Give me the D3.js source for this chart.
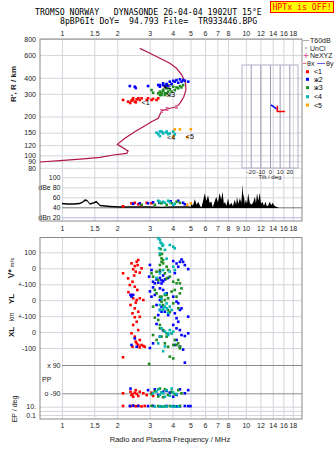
<!DOCTYPE html>
<html>
<head>
<meta charset="utf-8">
<title>Dynasonde</title>
<script src="https://cdn.jsdelivr.net/npm/d3@7"></script>
<style>
  body { margin: 0; background: #fff; }
  #chart { width: 335px; height: 451px; }
</style>
</head>
<body>
<div id="chart"></div>
<script>
// ---------- data ----------
const freqTicks = [1, 1.5, 2, 3, 4, 5, 6, 7, 8, 10, 12, 14, 16, 18];
const freqTicksMid = [1, 1.5, 2, 3, 4, 5, 6, 7, 8, 9, 10, 12, 14, 16, 18];
const heightTicks = [800, 600, 400, 300, 200, 150, 120, 100, 90, 80];
const dbTicks = [100, 80, 60, 40, 20];
const dbTickLabels = ["100", "dBe 80", "60", "40", "dBn 20"];
const tiltTicks = [-20, -10, 0, 10, 20];

// plasma frequency profile (MHz, km)
const profFreq = [0.76, 0.975, 1.31, 1.61, 1.90, 2.25, 2.29, 2.0, 2.2, 2.49, 2.77, 3.07, 3.34, 3.48, 3.73, 4.20, 4.38, 4.60, 4.72, 4.70, 4.49, 4.20, 3.86, 3.41, 3.01, 2.65];
const profHeight = [88.7, 90.8, 94, 96.5, 100.6, 103.6, 108, 121.7, 135.6, 152.6, 166.7, 182, 194, 221, 229, 238, 253, 285, 321, 362, 420, 474, 518, 567, 620, 677];

// NeXYZ fits
const neFreq = [3.48, 3.73, 4.20];
const neHeight = [221, 229, 238];
const neErr = [6, 6, 6];

// tilt traces (deg, km)
const tiltXdeg = [7.6, 7.6, 15.5];
const tiltXkm = [243, 219, 219];
const tiltYdeg = [1, 2.5, 4, 5.5, 7];
const tiltYkm = [246, 242, 238, 233, 228];

// virtual heights of echoes, per cluster (MHz, km)
const echo1 = [[2.15,269],[2.29,261],[2.39,266],[2.44,277],[2.49,261],[2.55,272],[2.60,277],[2.65,269],[2.71,277],[2.89,269],[2.94,277],[3.07,269],[3.13,274],[3.27,269],[3.34,277],[2.35,255],[2.52,258],[2.42,270]];
const echo2 = [[2.34,345],[2.49,341],[2.52,333],[2.94,345],[3.34,351],[3.41,341],[3.55,351],[3.71,358],[3.78,345],[3.41,351],[3.55,362],[3.63,345],[3.71,351],[3.86,373],[3.95,358],[4.03,379],[4.11,373],[4.20,384],[4.29,366],[4.38,389],[4.47,373],[4.56,384],[4.66,379],[4.86,373]];
const echo3 = [[3.07,321],[3.13,306],[3.34,303],[3.41,294],[3.48,306],[3.55,317],[3.63,294],[3.71,303],[3.78,312],[3.41,312],[3.48,294],[3.55,321],[3.63,303],[3.71,331],[3.86,325],[3.95,312],[4.03,341],[4.11,321],[4.20,337],[4.29,331],[4.38,345],[4.47,337],[4.56,351]];
const echo4 = [[3.27,150],[3.34,146],[3.41,141],[3.48,153],[3.55,148],[3.71,150],[3.78,146],[3.41,153],[3.55,150],[3.71,153],[3.86,148],[4.03,153],[4.11,146]];
const echo5 = [[4.03,139.5],[4.11,159],[4.38,159],[5.02,159],[4.80,138]];

const clusterNames = ["<1", "ж2", "ж3", "<4", "<5"];
const clusterFreq = [2.71, 3.55, 3.71, 3.73, 4.72];
const clusterHeight = [258, 348, 297, 139, 140];

// noise envelope (MHz, dB)
const noiseFreq = [1.0, 1.06, 1.15, 1.25, 1.30, 1.33, 1.37, 1.42, 1.48, 1.54, 1.61, 1.82, 2.07, 2.5, 3.0, 3.5, 4.0, 4.5, 4.95,
    5.0, 5.06, 5.15, 5.28, 5.4, 5.51, 5.65, 5.74, 5.85, 5.98, 6.1, 6.23, 6.35, 6.5, 6.6, 6.75, 6.9, 7.05, 7.2, 7.35, 7.47, 7.6, 7.68, 7.85,
    8.0, 8.15, 8.35, 8.5, 8.7, 8.85, 8.95, 9.1, 9.28, 9.45, 9.6, 9.68, 9.74, 9.87, 10.0, 10.15, 10.3, 10.5, 10.7, 10.95, 11.2, 11.35,
    11.5, 11.7, 11.9, 12.1, 12.3, 12.55, 12.8, 13.0, 13.2, 13.5, 13.75, 14.0, 14.3, 14.6, 15.1];
const noiseHi = [49, 48, 48, 49, 52, 56, 55, 48, 50, 53, 45, 43, 42, 42, 42, 41, 42, 42, 42,
    40, 48, 43, 56, 45, 51, 42, 40, 52, 68, 53, 64, 49, 51, 40, 50, 61, 50, 68, 55, 71, 46, 51, 43,
    58, 44, 49, 42, 55, 45, 61, 47, 58, 49, 86, 58, 68, 46, 55, 47, 68, 49, 45, 49, 61, 48,
    68, 53, 69, 47, 51, 43, 51, 42, 43, 51, 44, 49, 43, 41, 39];
const noiseLo = [46, 45, 45, 46, 49, 52, 52, 45, 47, 49, 42, 40, 39, 39, 39, 38.5, 39, 39, 39,
    38.5, 38.5, 38.5, 38.5, 38.5, 38.5, 38.5, 38.5, 38.5, 38.5, 38.5, 38.5, 38.5, 38.5, 38.5, 38.5, 38.5, 38.5, 38.5, 38.5, 38.5, 38.5, 38.5, 38.5,
    38.5, 38.5, 38.5, 38.5, 38.5, 38.5, 38.5, 38.5, 38.5, 38.5, 38.5, 38.5, 38.5, 38.5, 38.5, 38.5, 38.5, 38.5, 38.5, 38.5, 38.5, 38.5,
    38.5, 38.5, 38.5, 38.5, 38.5, 38.5, 38.5, 38.5, 38.5, 38.5, 38.5, 38.5, 38.5, 38.5, 38.5];

// echo amplitudes (MHz, dB)
const amp1 = [[2.15,42],[2.39,48],[2.49,49],[2.60,46],[2.89,49],[3.07,48],[2.70,44]];
const amp2 = [[2.44,47],[2.65,48],[2.94,48],[3.13,50],[3.38,49],[4.29,53],[4.56,49],[4.66,46],[3.90,52]];
const amp3 = [[2.71,45],[3.20,45],[3.48,48],[3.71,45],[3.95,48],[4.20,51],[4.38,49],[3.41,49]];
const amp4 = [[3.34,53],[3.41,51],[3.55,51],[3.63,49],[3.78,53],[4.03,45],[3.86,50],[4.11,47]];
const amp5 = [[4.80,45],[5.02,48]];

// Doppler velocity V* (MHz, m/s)
const vel1 = [[2.15,-31],[2.29,-63],[2.39,31],[2.44,-6],[2.49,14],[2.55,41],[2.60,52],[2.65,-27],[2.71,0],[2.52,-21],[2.42,-84],[2.47,-45],[2.58,20]];
const vel2 = [[3.01,21],[3.07,-11],[2.98,-52],[3.13,-84],[3.20,-94],[3.27,-70],[3.34,-90],[3.41,-60],[3.48,-75],[3.55,-45],[3.41,-20],[4.03,45],[4.20,30],[4.29,10],[4.38,40],[4.47,55],[4.56,40],[4.66,20],[4.86,-5],[3.48,-95],[3.55,-82],[3.63,-70],[4.11,-30],[3.78,-60]];
const vel3 = [[3.07,-31],[3.13,-52],[3.27,-21],[3.41,21],[3.48,41],[3.55,31],[3.63,-31],[3.71,-63],[3.78,-11],[3.34,-73],[3.41,-11],[3.55,52],[3.71,10],[3.86,-52],[4.03,-84],[4.20,-94],[4.29,-73],[4.38,-94],[3.44,120],[3.50,90],[3.41,83],[3.48,62]];
const vel4 = [[3.34,188],[3.41,177],[3.48,156],[3.55,146],[3.38,125],[3.63,115],[3.41,94],[3.44,160],[3.52,140],[3.86,146],[4.03,135],[4.11,125],[3.41,-31],[3.55,-11],[3.86,-21],[4.03,10],[4.11,-11],[3.71,60],[3.27,-60]];

// echolocation YL (MHz, km)
const yl1 = [[2.34,95],[2.49,84],[2.57,64],[2.39,33],[2.44,12],[2.55,1],[2.65,12],[2.77,1],[2.36,-30],[2.49,-51],[2.60,-72],[2.42,-82],[2.52,-15],[2.30,50]];
const yl2 = [[2.36,33],[2.39,22],[2.44,33],[3.07,22],[3.20,33],[3.27,-30],[3.41,-61],[3.34,-93],[3.48,-72],[3.41,74],[3.55,64],[3.71,43],[4.03,22],[4.20,-9],[4.29,-19],[4.38,-61],[4.47,-51],[4.11,-82],[3.41,1],[3.48,-41],[3.63,-72],[3.78,-93],[3.13,80],[3.01,55]];
const yl3 = [[3.20,64],[3.27,43],[3.48,22],[3.63,1],[3.71,33],[3.55,-30],[3.78,-61],[3.41,22],[3.48,-9],[3.63,33],[3.78,12],[3.95,54],[4.11,64],[4.20,22],[4.38,43],[4.47,74],[3.13,-40],[4.03,-20],[4.29,-50],[3.86,-75]];
const yl4 = [[3.41,-30],[3.55,-51],[3.63,-40],[3.71,-20],[3.41,-61],[3.55,-61],[3.71,-51],[3.86,-40],[3.95,-61],[3.48,10],[3.63,40],[3.78,-80]];

// echolocation XL (MHz, km)
const xl1 = [[2.49,92],[2.65,95],[2.55,64],[2.44,44],[2.60,12],[2.39,-8],[2.49,-29],[2.65,-50],[2.55,-71],[2.42,-92],[2.71,-81],[2.82,-92],[2.60,-81],[2.65,-96],[2.15,-158],[2.77,-87],[2.52,-60]];
const xl2 = [[4.20,86],[4.29,64],[4.86,96],[4.03,44],[4.20,23],[4.38,12],[4.47,-19],[4.66,-25],[4.86,-8],[4.20,-50],[4.11,-81],[4.38,-92],[2.39,-81],[2.49,-40],[2.55,-92],[3.01,-100],[3.13,-71],[3.41,-29],[3.55,10],[3.27,50],[4.56,-110]];
const xl3 = [[3.41,44],[3.55,12],[3.71,-8],[3.48,-29],[3.27,-50],[3.63,-71],[3.78,-92],[3.13,-19],[3.41,23],[3.71,-29],[3.95,-8],[4.11,-50],[4.29,-71],[4.03,-81],[4.38,-102],[3.86,-154],[4.03,-165],[4.20,-81],[4.38,-92],[3.20,90],[3.34,75]];
const xl4 = [[3.48,23],[3.63,2],[3.78,-8],[3.41,-29],[3.34,-71],[3.86,12],[3.95,-8],[4.03,2],[3.78,-19],[3.63,-90],[3.55,-120]];

// polarisation PP (MHz, deg)
const pp1 = [[2.15,-90],[2.36,-80],[2.39,-101],[2.44,-112],[2.49,-86],[2.55,-94],[2.60,-107],[2.65,-80],[2.77,-90],[2.89,-101],[3.07,-86],[3.13,-107],[2.52,-70],[2.42,-95]];
const pp2 = [[2.36,-60],[2.94,-70],[3.20,-65],[3.34,-101],[3.55,-80],[3.86,-85],[4.03,-112],[4.38,-65],[4.86,-70],[4.66,-90],[4.20,-100],[3.71,-75],[4.66,105]];
const pp3 = [[2.98,97],[3.07,-95],[3.20,-75],[3.34,-110],[3.48,-85],[3.63,-65],[3.78,-100],[3.95,-80],[4.11,-95],[4.29,-70],[4.47,-90],[3.55,-115],[3.41,-60]];
const pp4 = [[3.13,-90],[3.27,-80],[3.41,-100],[3.55,-90],[3.71,-70],[3.86,-105],[4.03,-85],[4.20,-95],[3.34,-65],[3.63,-112],[3.95,-60],[3.48,-85]];

// EP (MHz, deg)
const ep1 = [[2.15,15],[2.36,14],[2.44,18],[2.52,13],[2.60,16],[2.71,12],[2.82,15]];
const ep2 = [[2.34,15],[2.44,17],[2.94,14],[3.13,16],[3.41,13],[3.71,15],[4.03,14],[4.38,13],[4.66,15],[4.86,14],[5.0,14],[2.60,16],[4.20,12]];
const ep3 = [[3.07,16],[3.34,14],[3.63,13],[3.86,15],[4.11,12],[4.38,16],[3.48,11]];
const ep4 = [[3.20,11],[3.41,12],[3.55,10],[3.71,11],[3.95,12],[4.11,10],[4.29,11]];

// ---------- layout ----------
const W = 335, H = 451;
const left = 40, right = 302;
const topY0 = 39, topY1 = 221;
const lowY0 = 237.5, lowY1 = 419;
const font = "'Liberation Sans', Arial, sans-serif";
const mono = "'DejaVu Sans Mono', monospace";
const gridColor = "#d4d4dc";
const ink = "#222";
const col = ["#ff0000", "#0000ff", "#1e8c1e", "#00b4b4", "#ffa500"];

const svg = d3.select("#chart").append("svg")
    .attr("width", W)
    .attr("height", H)
    .style("font-family", font);

const x = d3.scaleLog().domain([0.76, 20.2]).range([left, right]);
const yH = d3.scaleLog().domain([800, 80]).range([39, 167.8]);
const yDb = d3.scaleLinear().domain([20, 100]).range([217.3, 177.3]);
const yV = d3.scaleLinear().domain([-100, 100]).range([284.3, 252.3]);
const yYL = d3.scaleLinear().domain([-100, 100]).range([316.2, 284.2]);
const yXL = d3.scaleLinear().domain([-100, 100]).range([348, 316]);
const yPP = d3.scaleLinear().domain([-90, 90]).range([393.3, 365]);
const yEP = d3.scaleLog().domain([0.1, 10]).range([415, 406.7]);
const tiltX = d3.scaleLinear().domain([-29, 29]).range([242, 298]);

// vertical frequency grid in both boxes
function vGrid(y0, y1) {
    const g = svg.append("g")
        .attr("transform", "translate(0," + y1 + ")")
        .call(d3.axisBottom(x).tickValues(freqTicks).tickSize(-(y1 - y0)).tickFormat(""));
    g.select(".domain").remove();
    g.selectAll(".tick line").attr("stroke", gridColor);
}
vGrid(topY0, topY1);
vGrid(lowY0, lowY1);

// horizontal grid lines with their labels
function hGrid(scale, ticks, x0, fmt, color, pad) {
    const g = svg.append("g")
        .attr("transform", "translate(" + x0 + ",0)")
        .call(d3.axisLeft(scale).tickValues(ticks).tickSize(-(right - x0)).tickPadding(pad).tickFormat(fmt));
    g.select(".domain").remove();
    g.attr("font-family", font).attr("font-size", 7);
    g.selectAll(".tick line").attr("stroke", color);
    g.selectAll(".tick text").attr("fill", ink);
    return g;
}
hGrid(yH, heightTicks, left, d => d, gridColor, 4);
const dbAxis = hGrid(yDb, dbTicks, 62, (d, i) => dbTickLabels[i], gridColor, 1.5);
dbAxis.selectAll(".tick line").filter(d => d === 20).attr("stroke", "#b4b4ee");
dbAxis.selectAll(".tick line").filter(d => d === 40).attr("stroke", "#777");
hGrid(yV, [100, 0, -100], left, d => d === -100 ? "+-100" : d, gridColor, 4);
hGrid(yYL, [0, -100], left, d => d === -100 ? "+-100" : d, gridColor, 4);
hGrid(yXL, [0, -100], left, d => d, gridColor, 4);
hGrid(yPP, [90, -90], 62, d => d > 0 ? "x 90" : "o -90", "#8c8c8c", 1.5);
hGrid(yEP, [10, 1, 0.1], left, d => d === 10 ? "10." : (d === 0.1 ? "0.1" : ""), gridColor, 4);

// frequency labels
function freqAxis(y, ticks, axis, pad) {
    const g = svg.append("g")
        .attr("transform", "translate(0," + y + ")")
        .call(axis(x).tickValues(ticks).tickSize(0).tickPadding(pad).tickFormat(d => d));
    g.select(".domain").remove();
    g.attr("font-family", font).attr("font-size", 7);
    g.selectAll(".tick text").attr("fill", ink);
}
freqAxis(topY0, freqTicks, d3.axisTop, 3.3);
freqAxis(topY1, freqTicksMid, d3.axisBottom, 5.5);
freqAxis(lowY1, freqTicks, d3.axisBottom, 4.3);

// box borders
[[topY0, topY1], [lowY0, lowY1]].forEach(([a, b]) => {
    svg.append("rect")
        .attr("x", left).attr("y", a)
        .attr("width", right - left).attr("height", b - a)
        .attr("fill", "none").attr("stroke", "#8a8a8a");
});

// tilt inset
const insetTop = 65, insetBottom = 168;
const inset = svg.append("g")
    .attr("transform", "translate(0," + insetBottom + ")")
    .call(d3.axisBottom(tiltX).tickValues(tiltTicks).tickSize(-(insetBottom - insetTop)).tickPadding(1.5).tickFormat(d => d));
inset.select(".domain").remove();
inset.attr("font-family", font).attr("font-size", 6);
inset.selectAll(".tick line").attr("stroke", "#9a9ab4");
inset.selectAll(".tick text").attr("fill", ink);
svg.append("rect")
    .attr("x", tiltX.range()[0]).attr("y", insetTop)
    .attr("width", tiltX.range()[1] - tiltX.range()[0]).attr("height", insetBottom - insetTop)
    .attr("fill", "none").attr("stroke", "#b0b0c8");
svg.append("text")
    .attr("x", tiltX(0)).attr("y", 179)
    .attr("text-anchor", "middle").attr("font-size", 6).attr("fill", ink)
    .text("Tilt / deg");

const tiltLine = d3.line().x(d => tiltX(d[0])).y(d => yH(d[1]));
svg.append("path").datum(d3.zip(tiltYdeg, tiltYkm))
    .attr("fill", "none").attr("stroke", "#0000ff").attr("stroke-width", 1.6)
    .attr("d", tiltLine);
svg.append("path").datum(d3.zip(tiltXdeg, tiltXkm))
    .attr("fill", "none").attr("stroke", "#ff0000").attr("stroke-width", 1.6)
    .attr("d", tiltLine);

// noise level
const noise = noiseFreq.map((f, i) => ({ f: f, hi: noiseHi[i], lo: noiseLo[i] }));
svg.append("path").datum(noise)
    .attr("fill", "#000")
    .attr("d", d3.area().x(d => x(d.f)).y0(d => yDb(d.lo)).y1(d => yDb(d.hi)));

// profile
svg.append("path").datum(d3.zip(profFreq, profHeight))
    .attr("fill", "none").attr("stroke", "#b3164a").attr("stroke-width", 1.2)
    .attr("d", d3.line().x(d => x(d[0])).y(d => yH(d[1])));

// NeXYZ markers
const ne = svg.append("g").attr("stroke", "#e2609a").attr("stroke-width", 1);
neFreq.forEach((f, i) => {
    const cx = x(f), y0 = yH(neHeight[i] - neErr[i]), y1 = yH(neHeight[i] + neErr[i]);
    ne.append("line").attr("x1", cx).attr("x2", cx).attr("y1", y0).attr("y2", y1);
    ne.append("line").attr("x1", cx - 1.5).attr("x2", cx + 1.5).attr("y1", y0).attr("y2", y0);
    ne.append("line").attr("x1", cx - 1.5).attr("x2", cx + 1.5).attr("y1", y1).attr("y2", y1);
});

// echo squares
function squares(data, ys, color) {
    const s = 2.6;
    svg.append("g").selectAll("rect").data(data).join("rect")
        .attr("x", d => x(d[0]) - s / 2)
        .attr("y", d => ys(d[1]) - s / 2)
        .attr("width", s).attr("height", s)
        .attr("fill", color);
}
[echo1, echo2, echo3, echo4, echo5].forEach((d, i) => squares(d, yH, col[i]));
[amp1, amp2, amp3, amp4, amp5].forEach((d, i) => squares(d, yDb, col[i]));
[vel1, vel2, vel3, vel4].forEach((d, i) => squares(d, yV, col[i]));
[yl1, yl2, yl3, yl4].forEach((d, i) => squares(d, yYL, col[i]));
[xl1, xl2, xl3, xl4].forEach((d, i) => squares(d, yXL, col[i]));
[pp1, pp2, pp3, pp4].forEach((d, i) => squares(d, yPP, col[i]));
[ep1, ep2, ep3, ep4].forEach((d, i) => squares(d, yEP, col[i]));

// cluster names next to the echoes
clusterNames.forEach((t, i) => {
    svg.append("text")
        .attr("x", x(clusterFreq[i])).attr("y", yH(clusterHeight[i]) + 3)
        .attr("font-size", 7).attr("fill", "#000")
        .text(t);
});

// left-hand titles
function vTitle(xp, yp, parts) {
    const t = svg.append("text")
        .attr("transform", "translate(" + xp + "," + yp + ") rotate(-90)")
        .attr("text-anchor", "middle").attr("fill", ink);
    parts.forEach(p => t.append("tspan").attr("font-size", p[1]).attr("font-weight", p[2]).text(p[0]));
}
vTitle(16, 84, [["R', R / km", 8, "bold"]]);
vTitle(13.5, 268, [["V*", 8.5, "bold"], [" m/s", 6, "normal"]]);
vTitle(13.5, 299, [["YL", 8, "bold"]]);
vTitle(13.5, 317, [["km", 6.5, "normal"]]);
vTitle(13.5, 332, [["XL", 8, "bold"]]);
vTitle(16.5, 409, [["EP / deg", 7, "normal"]]);
svg.append("text").attr("x", 42).attr("y", 382)
    .attr("font-size", 7).attr("fill", ink).text("PP");

svg.append("text")
    .attr("x", 170).attr("y", 441.5)
    .attr("text-anchor", "middle").attr("font-size", 7.5).attr("fill", ink)
    .text("Radio and Plasma Frequency / MHz");

// header
svg.append("text").attr("x", 35).attr("y", 15)
    .attr("font-family", mono).attr("font-size", 8.2).style("white-space", "pre")
    .text("TROMSO NORWAY   DYNASONDE 26-04-04 1902UT 15°E");
svg.append("text").attr("x", 60).attr("y", 23.5)
    .attr("font-family", mono).attr("font-size", 8.2).style("white-space", "pre")
    .text("8pBP6It DoY=  94.793 File=  TR933446.BPG");
svg.append("rect").attr("x", 270.5).attr("y", 1.5).attr("width", 63).attr("height", 11)
    .attr("fill", "#ffff00").attr("stroke", "#ff0000");
svg.append("text").attr("x", 302).attr("y", 10.3)
    .attr("text-anchor", "middle").attr("font-family", mono).attr("font-size", 8.2)
    .attr("fill", "#ff0000").text("HPTx is OFF!");

// legend
const lg = svg.append("g").attr("font-size", 7).attr("fill", ink);
lg.append("line").attr("x1", 303).attr("x2", 309).attr("y1", 40.5).attr("y2", 40.5).attr("stroke", "#a8a8a8");
lg.append("text").attr("x", 310).attr("y", 43).text("T60dB");
lg.append("rect").attr("x", 305.5).attr("y", 47.5).attr("width", 1).attr("height", 1).attr("fill", "#000");
lg.append("text").attr("x", 310).attr("y", 50.7).text("UnCl");
lg.append("path").attr("d", "M303.5,55.5h5M306,53v5").attr("stroke", "#e2609a");
lg.append("text").attr("x", 310).attr("y", 58.3).text("NeXYZ");
lg.append("line").attr("x1", 303).attr("x2", 306.5).attr("y1", 63.5).attr("y2", 63.5).attr("stroke", "#ee7090");
lg.append("text").attr("x", 307).attr("y", 66).text("θx");
lg.append("line").attr("x1", 317).attr("x2", 325).attr("y1", 63.5).attr("y2", 63.5).attr("stroke", "#6060ee");
lg.append("text").attr("x", 326).attr("y", 66).text("θy");
const legendY = [71.7, 79.3, 87.7, 96.7, 105];
clusterNames.forEach((t, i) => {
    lg.append("rect").attr("x", 306).attr("y", legendY[i] - 1.5).attr("width", 3).attr("height", 3).attr("fill", col[i]);
    lg.append("text").attr("x", 314).attr("y", legendY[i] + 2.5).attr("fill", "#000").text(t);
});
</script>
</body>
</html>
